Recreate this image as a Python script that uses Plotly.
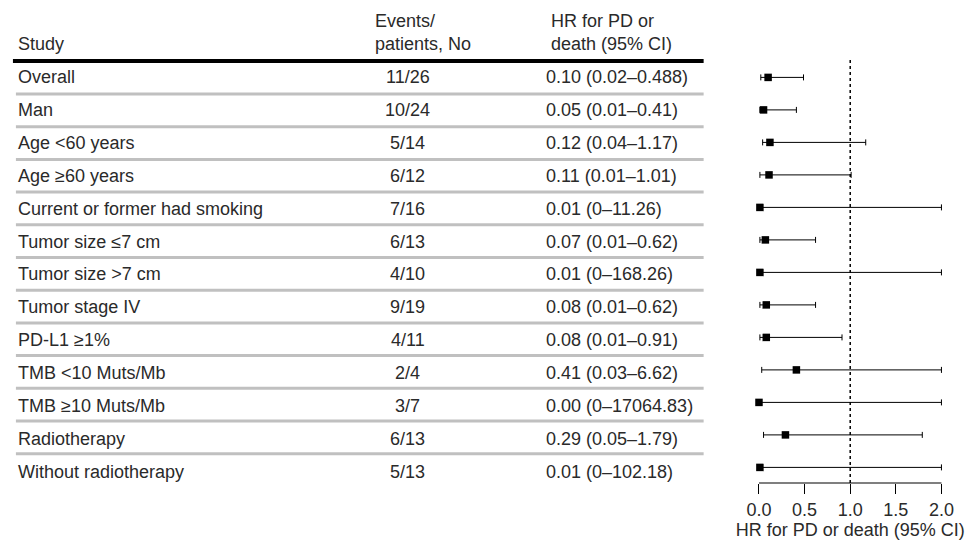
import plotly.graph_objects as go

studies = ["Overall", "Man", "Age <60 years", "Age ≥60 years", "Current or former had smoking",
           "Tumor size ≤7 cm", "Tumor size >7 cm", "Tumor stage IV", "PD-L1 ≥1%",
           "TMB <10 Muts/Mb", "TMB ≥10 Muts/Mb", "Radiotherapy", "Without radiotherapy"]
events = ["11/26", "10/24", "5/14", "6/12", "7/16", "6/13", "4/10", "9/19", "4/11", "2/4", "3/7", "6/13", "5/13"]
hr = [0.10, 0.05, 0.12, 0.11, 0.01, 0.07, 0.01, 0.08, 0.08, 0.41, 0.00, 0.29, 0.01]
lo = [0.02, 0.01, 0.04, 0.01, 0.0, 0.01, 0.0, 0.01, 0.01, 0.03, 0.0, 0.05, 0.0]
hi = [0.488, 0.41, 1.17, 1.01, 11.26, 0.62, 168.26, 0.62, 0.91, 6.62, 17064.83, 1.79, 102.18]
hr_text = ["0.10 (0.02–0.488)", "0.05 (0.01–0.41)", "0.12 (0.04–1.17)", "0.11 (0.01–1.01)",
           "0.01 (0–11.26)", "0.07 (0.01–0.62)", "0.01 (0–168.26)", "0.08 (0.01–0.62)",
           "0.08 (0.01–0.91)", "0.41 (0.03–6.62)", "0.00 (0–17064.83)", "0.29 (0.05–1.79)",
           "0.01 (0–102.18)"]
x_ticks = [0.0, 0.5, 1.0, 1.5, 2.0]
x_max = 2.0

W, H = 968, 543
FONT = "Liberation Sans, Arial, Helvetica, sans-serif"
TXT = "#2a2a2a"
FS = 18

def py(px):
    return (H - px) / H

n = len(studies)
rows = list(range(n))
hi_c = [min(h, x_max) for h in hi]

# forest rows (pixel geometry)
F_ROW0, F_STEP = 77.4, 32.5
# table rows
T_ROW0, T_STEP = 77.0, 32.9
L_ROW0, L_STEP = 94.0, 32.7

fig = go.Figure()
fig.add_trace(go.Scatter(
    x=hr, y=rows, mode="markers",
    marker=dict(symbol="square", size=7.5, color="black"),
    error_x=dict(type="data", symmetric=False,
                 array=[u - v for u, v in zip(hi_c, hr)],
                 arrayminus=[v - l for v, l in zip(hr, lo)],
                 color="black", thickness=1, width=3),
    cliponaxis=False, showlegend=False, hoverinfo="skip"))

ann = []
for i in rows:
    yp = py(T_ROW0 + T_STEP * i)
    ann.append(dict(x=13 / W, y=yp, xref="paper", yref="paper", text=studies[i], showarrow=False,
                    xanchor="left", yanchor="middle", font=dict(size=FS, color=TXT, family=FONT)))
    ann.append(dict(x=407.5 / W, y=yp, xref="paper", yref="paper", text=events[i], showarrow=False,
                    xanchor="center", yanchor="middle", font=dict(size=FS, color=TXT, family=FONT)))
    ann.append(dict(x=544 / W, y=yp, xref="paper", yref="paper", text=hr_text[i], showarrow=False,
                    xanchor="left", yanchor="middle", font=dict(size=FS, color=TXT, family=FONT)))

headers = [(13, 44, "Study"), (372, 21, "Events/"), (372, 44, "patients, No"),
           (549, 21, "HR for PD or"), (549, 44, "death (95% CI)")]
for xp, yp, t in headers:
    ann.append(dict(x=xp / W, y=py(yp), xref="paper", yref="paper", text=t, showarrow=False,
                    xanchor="left", yanchor="middle", font=dict(size=FS, color=TXT, family=FONT)))

shapes = [dict(type="line", xref="paper", yref="paper", x0=10 / W, x1=705 / W,
               y0=py(61), y1=py(61), line=dict(color="black", width=4))]
for j in range(n - 1):
    yp = L_ROW0 + L_STEP * j
    shapes.append(dict(type="line", xref="paper", yref="paper", x0=13 / W, x1=705 / W,
                       y0=py(yp), y1=py(yp), line=dict(color="#c0c0c0", width=3)))
shapes.append(dict(type="line", xref="x", yref="y domain", x0=1, x1=1, y0=0, y1=1,
                   line=dict(color="black", width=1.5, dash="dot")))
shapes.append(dict(type="line", xref="x", yref="y domain", x0=0, x1=x_max, y0=0, y1=0,
                   line=dict(color="black", width=1.2)))

px0, px2 = 760.7, 944.3
ppu = (px2 - px0) / 2.0
pad = 0.1
dom = [(px0 - pad * ppu) / W, (px2 + pad * ppu) / W]
ytop, ybot = 58, 483
yr_top = (ytop - F_ROW0) / F_STEP
yr_bot = (ybot - F_ROW0) / F_STEP

fig.update_layout(
    width=W, height=H, margin=dict(l=0, r=0, t=0, b=0),
    paper_bgcolor="white", plot_bgcolor="white",
    xaxis=dict(domain=dom, range=[-pad, 2 + pad], tickvals=x_ticks,
               ticktext=[f"{v:.1f}" for v in x_ticks],
               ticks="outside", ticklen=10, tickcolor="black", tickwidth=1,
               showgrid=False, zeroline=False, showline=False,
               tickfont=dict(size=FS, color=TXT, family=FONT),
               title=dict(text="HR for PD or death (95% CI)", standoff=0,
                          font=dict(size=FS, color=TXT, family=FONT))),
    yaxis=dict(domain=[py(ybot), py(ytop)], range=[yr_bot, yr_top], visible=False,
               showgrid=False, zeroline=False),
    annotations=ann, shapes=shapes)

fig.write_html("out.html", config={"displayModeBar": False},
               post_script="document.body.style.margin='0px';")
